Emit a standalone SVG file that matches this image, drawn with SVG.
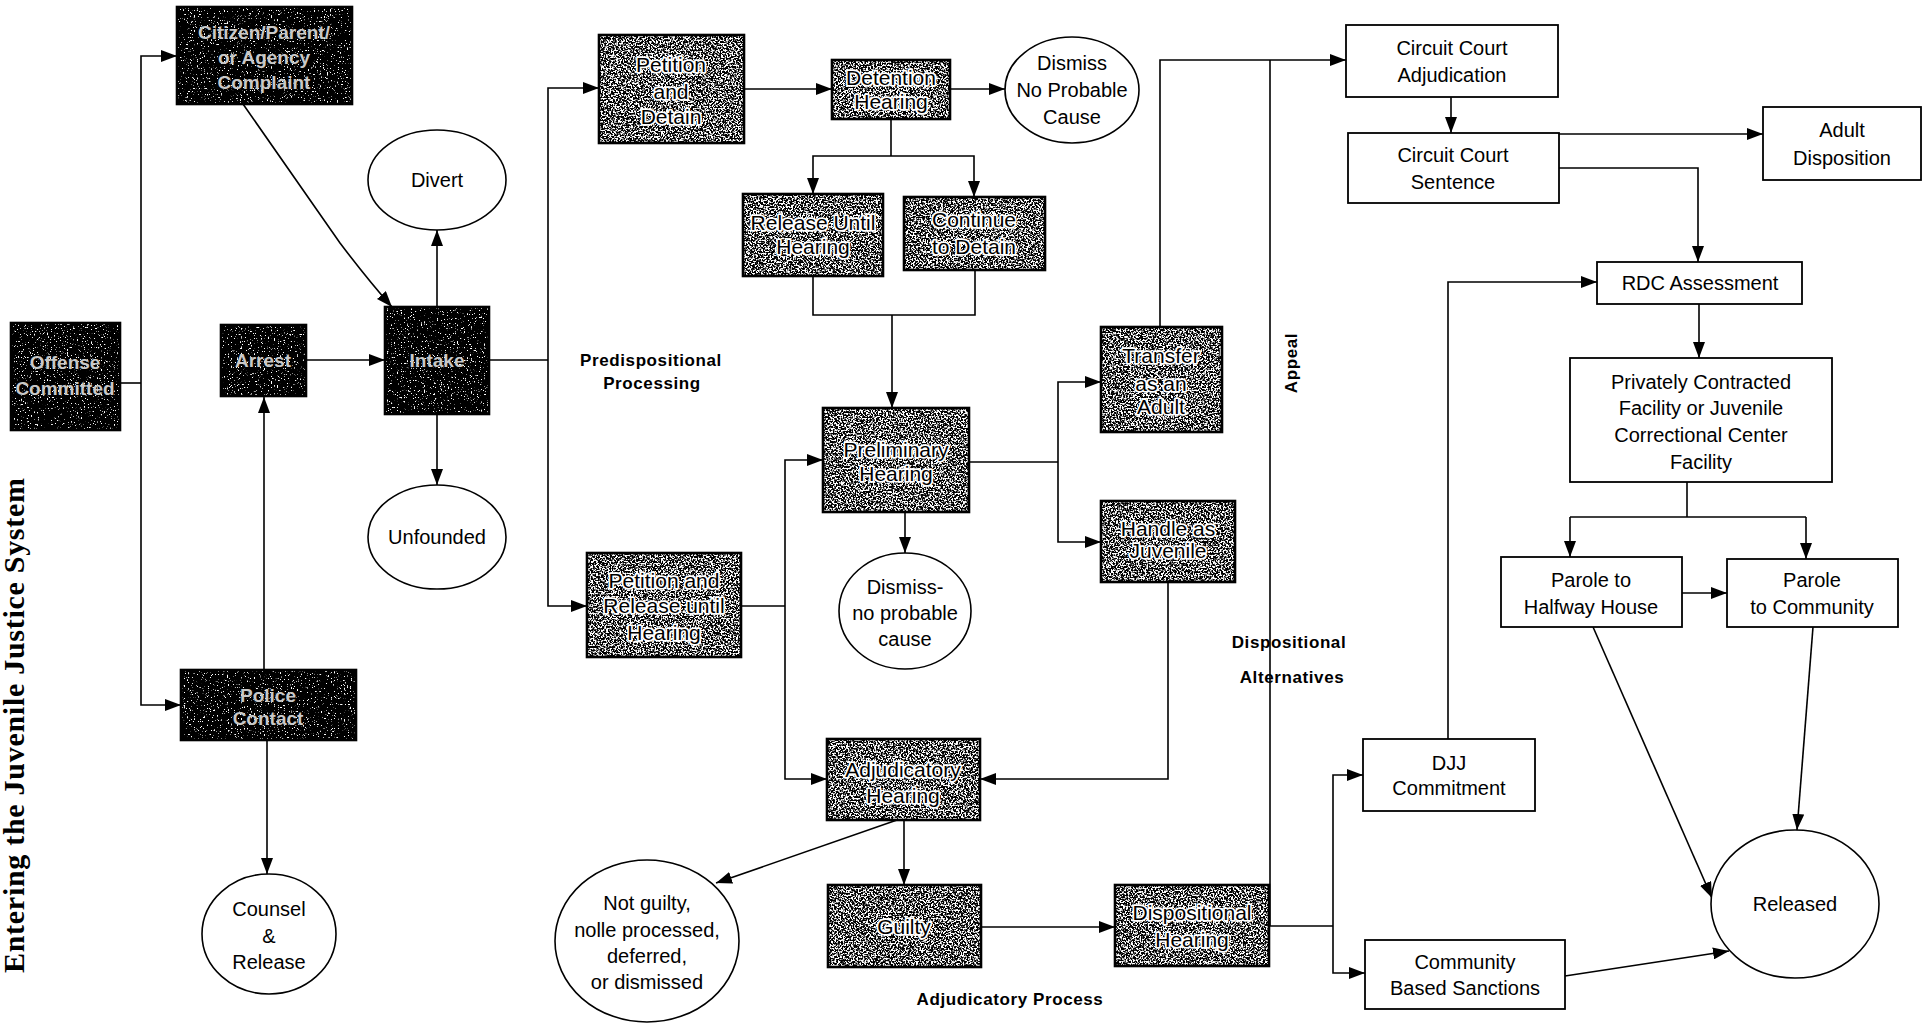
<svg xmlns="http://www.w3.org/2000/svg" width="1931" height="1024" viewBox="0 0 1931 1024">
<defs>
<style>
.ln{fill:none;stroke:#000;stroke-width:1.6}
.bx{fill:#fff;stroke:#000;stroke-width:1.8}
.bd{fill:none;stroke:#000;stroke-width:2.6}
.el{fill:#fff;stroke:#000;stroke-width:1.6}
.t{font-family:"Liberation Sans",Arial,sans-serif;font-size:20px;fill:#000;text-anchor:middle}
.tg{font-family:"Liberation Sans",Arial,sans-serif;font-size:21px;fill:#000;stroke:#fff;stroke-width:3.5px;paint-order:stroke;stroke-linejoin:round;text-anchor:middle}
.td{font-family:"Liberation Sans",Arial,sans-serif;font-weight:bold;font-size:19px;fill:#c8c8c8;text-anchor:middle}
.bl{font-family:"Liberation Sans",Arial,sans-serif;font-weight:bold;font-size:17px;letter-spacing:0.6px;fill:#000}
.ti{font-family:"Liberation Serif","Times New Roman",serif;font-weight:bold;font-size:30px;fill:#000}
.dk{fill:#000;filter:url(#nzD)}
.gy{fill:#000;filter:url(#nzG)}
</style>
<marker id="ah" markerWidth="16" markerHeight="12" refX="16" refY="6" orient="auto" markerUnits="userSpaceOnUse">
<path d="M0,0 L16,6 L0,12 z" fill="#000"/>
</marker>
<filter id="nzD" x="0" y="0" width="1" height="1" color-interpolation-filters="sRGB">
<feTurbulence type="fractalNoise" baseFrequency="0.7" numOctaves="2" seed="4" result="t"/>
<feColorMatrix in="t" type="matrix" values="1 0 0 0 0 1 0 0 0 0 1 0 0 0 0 0 0 0 0 1" result="g"/>
<feComponentTransfer in="g" result="b">
<feFuncR type="linear" slope="12" intercept="-7.7"/>
<feFuncG type="linear" slope="12" intercept="-7.7"/>
<feFuncB type="linear" slope="12" intercept="-7.7"/>
</feComponentTransfer>
<feComposite in="b" in2="SourceGraphic" operator="in"/>
</filter>
<filter id="nzG" x="0" y="0" width="1" height="1" color-interpolation-filters="sRGB">
<feTurbulence type="fractalNoise" baseFrequency="0.6" numOctaves="2" seed="7" result="t"/>
<feColorMatrix in="t" type="matrix" values="1 0 0 0 0 1 0 0 0 0 1 0 0 0 0 0 0 0 0 1" result="g"/>
<feComponentTransfer in="g" result="b">
<feFuncR type="linear" slope="8" intercept="-3.7"/>
<feFuncG type="linear" slope="8" intercept="-3.7"/>
<feFuncB type="linear" slope="8" intercept="-3.7"/>
</feComponentTransfer>
<feComposite in="b" in2="SourceGraphic" operator="in"/>
</filter>
</defs>
<rect width="1931" height="1024" fill="#fff"/>

<text class="ti" transform="translate(24,973) rotate(-90)" textLength="495">Entering the Juvenile Justice System</text>

<g id="connectors" class="ln">
<path d="M120,383 H141"/>
<path d="M141,383 V56 H177" marker-end="url(#ah)"/>
<path d="M141,383 V705 H181" marker-end="url(#ah)"/>
<path d="M243,104 L340,243 Q368,280 392,307" marker-end="url(#ah)"/>
<path d="M264,670 V397" marker-end="url(#ah)"/>
<path d="M306,360 H385" marker-end="url(#ah)"/>
<path d="M437,307 V230" marker-end="url(#ah)"/>
<path d="M437,414 V485" marker-end="url(#ah)"/>
<path d="M267,740 V874" marker-end="url(#ah)"/>
<path d="M489,360 H548"/>
<path d="M548,360 V88 H599" marker-end="url(#ah)"/>
<path d="M548,360 V606 H587" marker-end="url(#ah)"/>
<path d="M744,89 H832" marker-end="url(#ah)"/>
<path d="M950,89 H1005" marker-end="url(#ah)"/>
<path d="M891,119 V156"/>
<path d="M891,156 H813 V194" marker-end="url(#ah)"/>
<path d="M891,156 H974 V197" marker-end="url(#ah)"/>
<path d="M813,276 V315 H975 V270"/>
<path d="M892,315 V408" marker-end="url(#ah)"/>
<path d="M741,606 H785"/>
<path d="M785,606 V460 H823" marker-end="url(#ah)"/>
<path d="M785,606 V779 H827" marker-end="url(#ah)"/>
<path d="M905,512 V553" marker-end="url(#ah)"/>
<path d="M969,462 H1058"/>
<path d="M1058,462 V382 H1101" marker-end="url(#ah)"/>
<path d="M1058,462 V542 H1101" marker-end="url(#ah)"/>
<path d="M1160,327 V60 H1346" marker-end="url(#ah)"/>
<path d="M1270,60 V926"/>
<path d="M1168,582 V779 H980" marker-end="url(#ah)"/>
<path d="M904,820 V885" marker-end="url(#ah)"/>
<path d="M897,820 L716,883" marker-end="url(#ah)"/>
<path d="M981,927 H1115" marker-end="url(#ah)"/>
<path d="M1269,926 H1333"/>
<path d="M1333,926 V775 H1363" marker-end="url(#ah)"/>
<path d="M1333,926 V973 H1365" marker-end="url(#ah)"/>
<path d="M1448,739 V282 H1597" marker-end="url(#ah)"/>
<path d="M1451,97 V133" marker-end="url(#ah)"/>
<path d="M1559,134 H1763" marker-end="url(#ah)"/>
<path d="M1559,168 H1698 V262" marker-end="url(#ah)"/>
<path d="M1699,304 V358" marker-end="url(#ah)"/>
<path d="M1687,482 V517"/>
<path d="M1570,517 H1806"/>
<path d="M1570,517 V557" marker-end="url(#ah)"/>
<path d="M1806,517 V559" marker-end="url(#ah)"/>
<path d="M1682,593 H1727" marker-end="url(#ah)"/>
<path d="M1593,627 L1712,898" marker-end="url(#ah)"/>
<path d="M1813,627 L1797,830" marker-end="url(#ah)"/>
<path d="M1565,976 L1729,951" marker-end="url(#ah)"/>
</g>

<g id="offense"><rect class="dk" x="11" y="323" width="109" height="107"/><rect class="bd" x="11" y="323" width="109" height="107"/>
<text class="td"><tspan x="65" y="369">Offense</tspan><tspan x="65" y="395">Committed</tspan></text></g>

<g id="citizen"><rect class="dk" x="177" y="7" width="175" height="97"/><rect class="bd" x="177" y="7" width="175" height="97"/>
<text class="td"><tspan x="264" y="39">Citizen/Parent/</tspan><tspan x="264" y="64">or Agency</tspan><tspan x="264" y="89">Complaint</tspan></text></g>

<g id="arrest"><rect class="dk" x="221" y="325" width="85" height="71"/><rect class="bd" x="221" y="325" width="85" height="71"/>
<text class="td" x="263" y="367">Arrest</text></g>

<g id="intake"><rect class="dk" x="385" y="307" width="104" height="107"/><rect class="bd" x="385" y="307" width="104" height="107"/>
<text class="td" x="437" y="367">Intake</text></g>

<g id="police"><rect class="dk" x="181" y="670" width="175" height="70"/><rect class="bd" x="181" y="670" width="175" height="70"/>
<text class="td"><tspan x="268" y="702">Police</tspan><tspan x="268" y="725">Contact</tspan></text></g>

<g id="divert"><ellipse class="el" cx="437" cy="180" rx="69" ry="50"/><text class="t" x="437" y="187">Divert</text></g>
<g id="unfounded"><ellipse class="el" cx="437" cy="537" rx="69" ry="52"/><text class="t" x="437" y="544">Unfounded</text></g>
<g id="counsel"><ellipse class="el" cx="269" cy="934" rx="67" ry="60"/><text class="t"><tspan x="269" y="916">Counsel</tspan><tspan x="269" y="943">&amp;</tspan><tspan x="269" y="969">Release</tspan></text></g>

<g id="petition-detain"><rect class="gy" x="599" y="35" width="145" height="108"/><rect class="bd" x="599" y="35" width="145" height="108"/>
<text class="tg"><tspan x="671" y="72">Petition</tspan><tspan x="671" y="99">and</tspan><tspan x="671" y="124">Detain</tspan></text></g>

<g id="detention-hearing"><rect class="gy" x="832" y="60" width="118" height="59"/><rect class="bd" x="832" y="60" width="118" height="59"/>
<text class="tg"><tspan x="891" y="85">Detention</tspan><tspan x="891" y="109">Hearing</tspan></text></g>

<g id="dismiss-npc"><ellipse class="el" cx="1072" cy="90" rx="67" ry="53"/><text class="t"><tspan x="1072" y="70">Dismiss</tspan><tspan x="1072" y="97">No Probable</tspan><tspan x="1072" y="124">Cause</tspan></text></g>

<g id="release-until"><rect class="gy" x="743" y="194" width="140" height="82"/><rect class="bd" x="743" y="194" width="140" height="82"/>
<text class="tg"><tspan x="813" y="230">Release Until</tspan><tspan x="813" y="254">Hearing</tspan></text></g>

<g id="continue-detain"><rect class="gy" x="904" y="197" width="141" height="73"/><rect class="bd" x="904" y="197" width="141" height="73"/>
<text class="tg"><tspan x="974" y="227">Continue</tspan><tspan x="974" y="254">to Detain</tspan></text></g>

<g id="preliminary"><rect class="gy" x="823" y="408" width="146" height="104"/><rect class="bd" x="823" y="408" width="146" height="104"/>
<text class="tg"><tspan x="896" y="457">Preliminary</tspan><tspan x="896" y="481">Hearing</tspan></text></g>

<g id="petition-release"><rect class="gy" x="587" y="553" width="154" height="104"/><rect class="bd" x="587" y="553" width="154" height="104"/>
<text class="tg"><tspan x="664" y="588">Petition and</tspan><tspan x="664" y="613">Release until</tspan><tspan x="664" y="640">Hearing</tspan></text></g>

<g id="dismiss-nopc"><ellipse class="el" cx="905" cy="611" rx="66" ry="58"/><text class="t"><tspan x="905" y="594">Dismiss-</tspan><tspan x="905" y="620">no probable</tspan><tspan x="905" y="646">cause</tspan></text></g>

<g id="transfer"><rect class="gy" x="1101" y="327" width="121" height="105"/><rect class="bd" x="1101" y="327" width="121" height="105"/>
<text class="tg"><tspan x="1161" y="363">Transfer</tspan><tspan x="1161" y="391">as an</tspan><tspan x="1161" y="414">Adult</tspan></text></g>

<g id="handle"><rect class="gy" x="1101" y="501" width="134" height="81"/><rect class="bd" x="1101" y="501" width="134" height="81"/>
<text class="tg"><tspan x="1168" y="536">Handle as</tspan><tspan x="1168" y="558">Juvenile</tspan></text></g>

<g id="adjudicatory"><rect class="gy" x="827" y="739" width="153" height="81"/><rect class="bd" x="827" y="739" width="153" height="81"/>
<text class="tg"><tspan x="903" y="777">Adjudicatory</tspan><tspan x="903" y="803">Hearing</tspan></text></g>

<g id="guilty"><rect class="gy" x="828" y="885" width="153" height="82"/><rect class="bd" x="828" y="885" width="153" height="82"/>
<text class="tg" x="904" y="934">Guilty</text></g>

<g id="not-guilty"><ellipse class="el" cx="647" cy="941" rx="92" ry="81"/><text class="t"><tspan x="647" y="910">Not guilty,</tspan><tspan x="647" y="937">nolle processed,</tspan><tspan x="647" y="963">deferred,</tspan><tspan x="647" y="989">or dismissed</tspan></text></g>

<g id="dispositional-hearing"><rect class="gy" x="1115" y="885" width="154" height="81"/><rect class="bd" x="1115" y="885" width="154" height="81"/>
<text class="tg"><tspan x="1192" y="920">Dispositional</tspan><tspan x="1192" y="947">Hearing</tspan></text></g>

<g id="cca"><rect class="bx" x="1346" y="25" width="212" height="72"/><text class="t"><tspan x="1452" y="55">Circuit Court</tspan><tspan x="1452" y="82">Adjudication</tspan></text></g>
<g id="ccs"><rect class="bx" x="1348" y="133" width="211" height="70"/><text class="t"><tspan x="1453" y="162">Circuit Court</tspan><tspan x="1453" y="189">Sentence</tspan></text></g>
<g id="adult-disposition"><rect class="bx" x="1763" y="107" width="158" height="73"/><text class="t"><tspan x="1842" y="137">Adult</tspan><tspan x="1842" y="165">Disposition</tspan></text></g>
<g id="rdc"><rect class="bx" x="1597" y="262" width="205" height="42"/><text class="t" x="1700" y="290">RDC Assessment</text></g>
<g id="private"><rect class="bx" x="1570" y="358" width="262" height="124"/><text class="t"><tspan x="1701" y="389">Privately Contracted</tspan><tspan x="1701" y="415">Facility or Juvenile</tspan><tspan x="1701" y="442">Correctional Center</tspan><tspan x="1701" y="469">Facility</tspan></text></g>
<g id="halfway"><rect class="bx" x="1501" y="557" width="181" height="70"/><text class="t"><tspan x="1591" y="587">Parole to</tspan><tspan x="1591" y="614">Halfway House</tspan></text></g>
<g id="parole-community"><rect class="bx" x="1727" y="559" width="171" height="68"/><text class="t"><tspan x="1812" y="587">Parole</tspan><tspan x="1812" y="614">to Community</tspan></text></g>
<g id="djj"><rect class="bx" x="1363" y="739" width="172" height="72"/><text class="t"><tspan x="1449" y="770">DJJ</tspan><tspan x="1449" y="795">Commitment</tspan></text></g>
<g id="cbs"><rect class="bx" x="1365" y="940" width="200" height="69"/><text class="t"><tspan x="1465" y="969">Community</tspan><tspan x="1465" y="995">Based Sanctions</tspan></text></g>
<g id="released"><ellipse class="el" cx="1795" cy="904" rx="84" ry="74"/><text class="t" x="1795" y="911">Released</text></g>

<g id="labels">
<text class="bl" text-anchor="middle"><tspan x="651" y="366">Predispositional</tspan><tspan x="652" y="389">Processing</tspan></text>
<text class="bl" text-anchor="middle" x="1010" y="1005">Adjudicatory Process</text>
<text class="bl" text-anchor="middle"><tspan x="1289" y="648">Dispositional</tspan><tspan x="1292" y="683">Alternatives</tspan></text>
<text class="bl" text-anchor="middle" transform="translate(1297,363) rotate(-90)">Appeal</text>
</g>
</svg>
